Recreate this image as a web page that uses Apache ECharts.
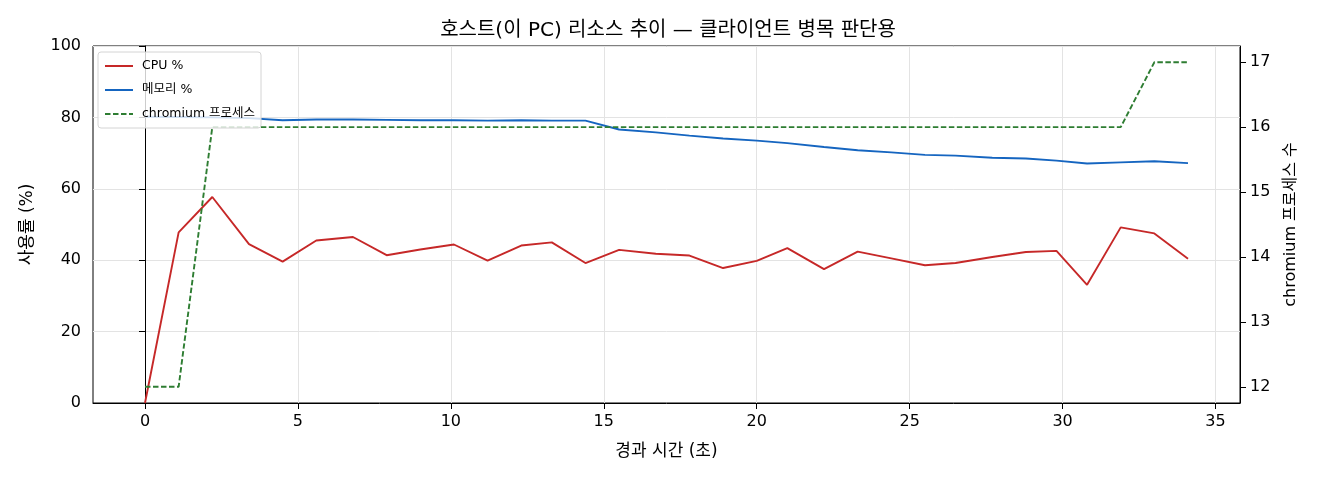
<!DOCTYPE html>
<html>
<head>
<meta charset="utf-8">
<script src="https://cdn.jsdelivr.net/npm/echarts@6/dist/echarts.min.js"></script>
<style>
  html, body { margin: 0; padding: 0; background: #fff; }
  #chart { width: 1320px; height: 480px; }
</style>
</head>
<body>
<div id="chart"></div>
<script>
// 경과 시간 (초)
const elapsed = [0, 1.1, 2.2, 3.4, 4.5, 5.6, 6.8, 7.9, 9.0, 10.1, 11.2, 12.3, 13.3, 14.4, 15.5, 16.7,
  17.8, 18.9, 20.0, 21.0, 22.2, 23.3, 24.4, 25.5, 26.5, 27.7, 28.8, 29.8, 30.8, 31.9, 33.0, 34.1];
// CPU 사용률 (%)
const cpu = [0, 47.8, 57.7, 44.5, 39.6, 45.5, 46.5, 41.4, 43.0, 44.4, 39.9, 44.1, 45.0, 39.2, 42.9, 41.8,
  41.3, 37.8, 39.8, 43.4, 37.5, 42.4, 40.5, 38.6, 39.2, 40.9, 42.3, 42.6, 33.1, 49.2, 47.5, 40.4];
// 메모리 사용률 (%)
const memory = [80.2, 80.1, 80.0, 79.8, 79.2, 79.4, 79.4, 79.3, 79.2, 79.2, 79.1, 79.2, 79.1, 79.1, 76.6, 75.8,
  74.9, 74.1, 73.5, 72.8, 71.7, 70.8, 70.2, 69.5, 69.3, 68.7, 68.5, 67.9, 67.1, 67.4, 67.7, 67.2];
// chromium 프로세스 수
const procs = [12, 12, 16, 16, 16, 16, 16, 16, 16, 16, 16, 16, 16, 16, 16, 16,
  16, 16, 16, 16, 16, 16, 16, 16, 16, 16, 16, 16, 16, 16, 17, 17];

const xTicks = [0, 5, 10, 15, 20, 25, 30, 35];
const procTicks = [12, 13, 14, 15, 16, 17];

// 라틴 문자는 DejaVu, 한글은 Noto CJK 로 넘어감
const FONT = '"DejaVu Sans", "Noto Sans CJK KR", sans-serif';
const pairs = (ys) => elapsed.map((x, i) => [x, ys[i]]);

const chart = echarts.init(document.getElementById('chart'), null, { renderer: 'canvas' });

const tickLabel = { fontFamily: FONT, fontSize: 16, color: '#000' };
const axisName = { fontFamily: FONT, fontSize: 17, color: '#000' };

chart.setOption({
  backgroundColor: '#fff',
  animation: false,
  textStyle: { fontFamily: FONT, color: '#000' },
  title: {
    text: '호스트(이 PC) 리소스 추이 — 클라이언트 병목 판단용',
    left: 663,
    textAlign: 'center',
    top: 16,
    textStyle: { fontFamily: FONT, fontSize: 20, fontWeight: 'normal', color: '#000' }
  },
  grid: {
    left: 93, right: 80, top: 46, bottom: 77,
    show: true, borderColor: '#000', borderWidth: 1, backgroundColor: 'transparent'
  },
  legend: {
    orient: 'vertical',
    left: 98, top: 52,
    padding: [6, 6, 6, 6],
    itemWidth: 28, itemHeight: 14, itemGap: 8,
    backgroundColor: 'rgba(255,255,255,0.8)',
    borderColor: '#d4d4d4', borderWidth: 1, borderRadius: 3,
    itemStyle: { color: 'rgba(0,0,0,0)', borderWidth: 0, opacity: 0 },
    textStyle: { fontFamily: FONT, fontSize: 12.5, color: '#000', lineHeight: 16, padding: [0, 0, 0, 4] },
    data: ['CPU %', '메모리 %', 'chromium 프로세스']
  },
  xAxis: {
    type: 'value',
    min: -1.7, max: 35.8,
    name: '경과 시간 (초)',
    nameLocation: 'middle', nameGap: 40,
    nameTextStyle: axisName,
    axisLine: { show: true, onZero: false, lineStyle: { color: '#000', width: 1 } },
    axisTick: { show: true, length: 6, customValues: xTicks, lineStyle: { color: '#000' } },
    axisLabel: Object.assign({ customValues: xTicks, margin: 11 }, tickLabel),
    splitLine: { show: true, lineStyle: { color: '#e3e3e3', width: 1 } }
  },
  yAxis: [
    {
      type: 'value',
      min: 0, max: 100, interval: 20,
      name: '사용률 (%)',
      nameLocation: 'middle', nameGap: 57, nameRotate: 90,
      nameTextStyle: axisName,
      axisLine: { show: true, lineStyle: { color: '#000', width: 1 } },
      axisTick: { show: true, length: 6, lineStyle: { color: '#000' } },
      axisLabel: Object.assign({ margin: 12 }, tickLabel),
      splitLine: { show: true, lineStyle: { color: '#e3e3e3', width: 1 } }
    },
    {
      type: 'value',
      position: 'right',
      min: 11.75, max: 17.25,
      name: 'chromium 프로세스 수',
      nameLocation: 'middle', nameGap: 43, nameRotate: 90,
      nameTextStyle: Object.assign({}, axisName, { fontSize: 16 }),
      axisLine: { show: true, lineStyle: { color: '#000', width: 1 } },
      axisTick: { show: true, length: 6, customValues: procTicks, lineStyle: { color: '#000' } },
      axisLabel: Object.assign({ customValues: procTicks, margin: 10 }, tickLabel),
      splitLine: { show: false }
    }
  ],
  series: [
    {
      name: 'CPU %', type: 'line', symbol: 'none', yAxisIndex: 0,
      data: pairs(cpu),
      itemStyle: { color: '#c62828' },
      lineStyle: { color: '#c62828', width: 1.9 }
    },
    {
      name: '메모리 %', type: 'line', symbol: 'none', yAxisIndex: 0,
      data: pairs(memory),
      itemStyle: { color: '#1565c0' },
      lineStyle: { color: '#1565c0', width: 1.9 }
    },
    {
      name: 'chromium 프로세스', type: 'line', symbol: 'none', yAxisIndex: 1,
      data: pairs(procs),
      itemStyle: { color: '#2e7d32' },
      lineStyle: { color: '#2e7d32', width: 1.9, type: [5.5, 2.5] }
    }
  ]
});
</script>
</body>
</html>
